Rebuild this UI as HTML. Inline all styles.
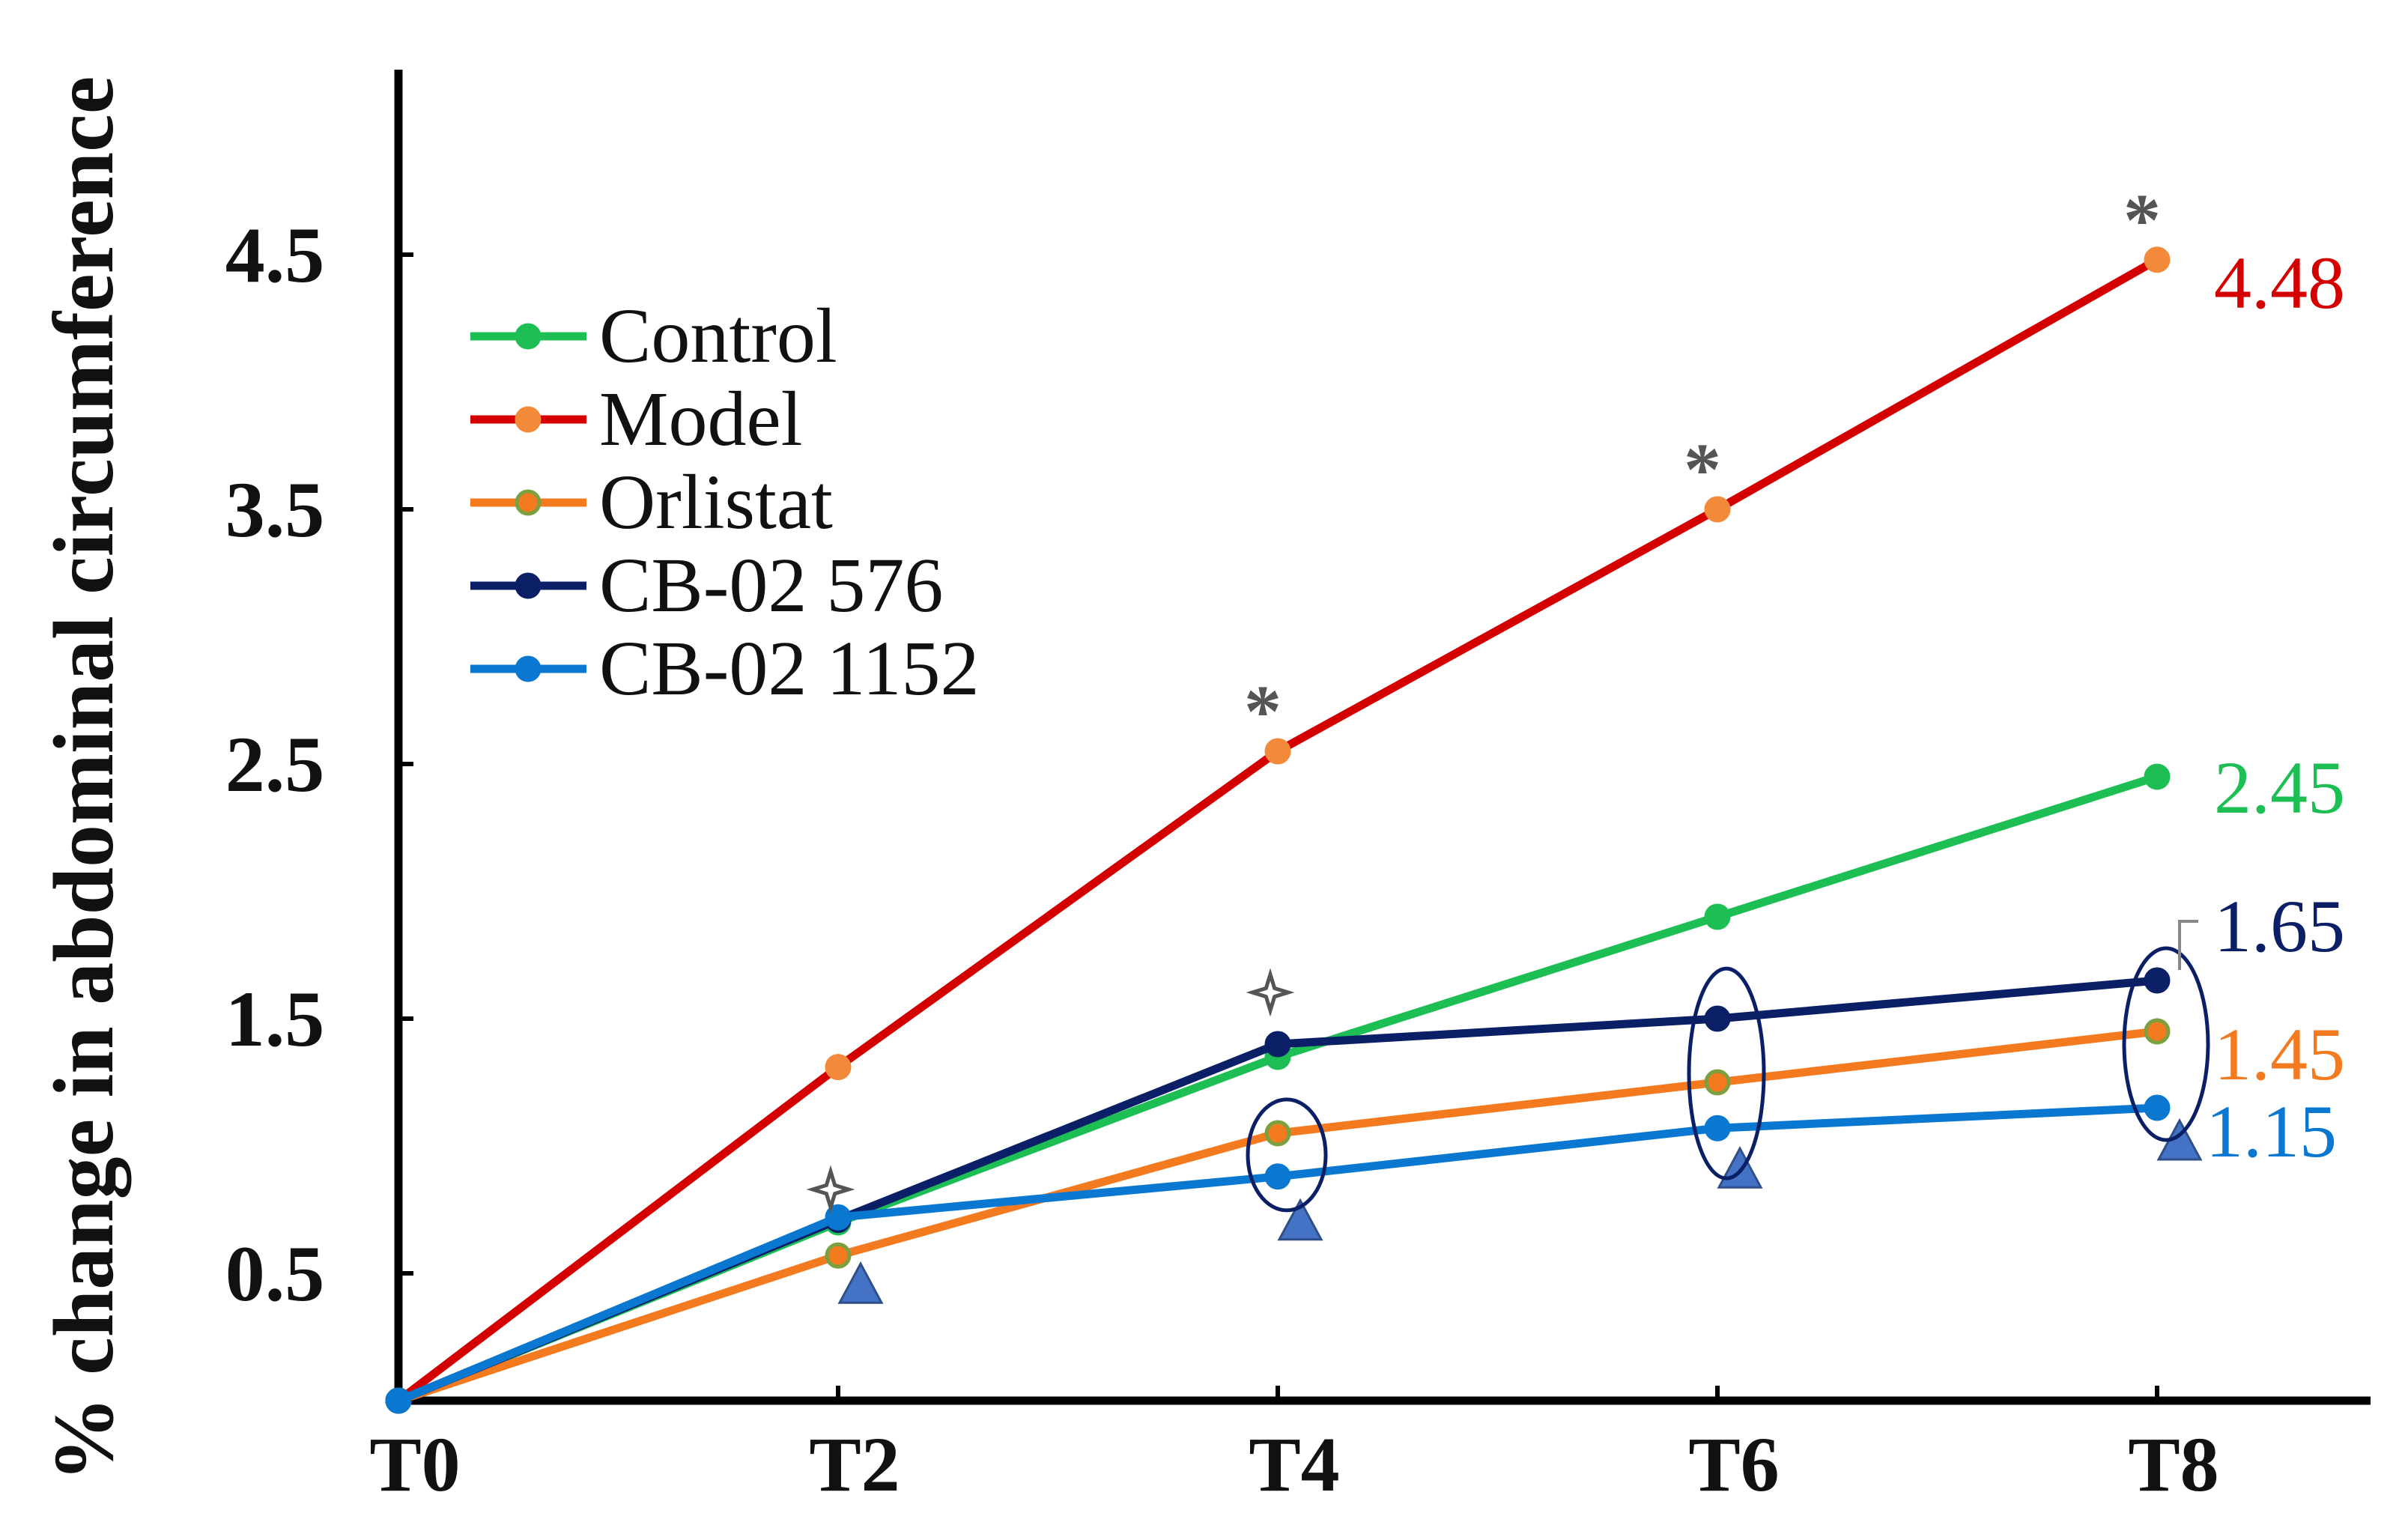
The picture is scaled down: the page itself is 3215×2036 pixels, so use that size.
<!DOCTYPE html>
<html><head><meta charset="utf-8"><style>
html,body{margin:0;padding:0;background:#fff;}
svg{display:block;}
</style></head><body>
<svg id="chart" width="3215" height="2036" viewBox="0 0 3215 2036" xmlns="http://www.w3.org/2000/svg" font-family="'Liberation Serif', serif">
<rect width="3215" height="2036" fill="#fff"/>
<text transform="translate(150,1040) rotate(-90)" text-anchor="middle" font-size="114" font-weight="bold" fill="#111">% change in abdominal circumference</text>
<g id="plot"></g>
</svg>
<script>
const categories = ["T0","T2","T4","T6","T8"];
const yTicks = [0.5,1.5,2.5,3.5,4.5];
const seriesNames = ["Control","Model","Orlistat","CB-02 576","CB-02 1152"];
const controlVals = [0,0.70,1.35,1.90,2.45];
const modelVals = [0,1.31,2.55,3.50,4.48];
const orlistatVals = [0,0.57,1.05,1.25,1.45];
const cb576Vals = [0,0.71,1.40,1.50,1.65];
const cb1152Vals = [0,0.72,0.88,1.07,1.15];
const endLabels = ["2.45","4.48","1.45","1.65","1.15"];

const NS="http://www.w3.org/2000/svg";
const g=document.getElementById('plot');
const xS=i=>532+i*587;
const yS=v=>1870-v*340;
function mk(tag,attrs,parent){const e=document.createElementNS(NS,tag);for(const k in attrs)e.setAttribute(k,attrs[k]);(parent||g).appendChild(e);return e;}

let e=mk('line',{x1:532,y1:93,x2:532,y2:1870,stroke:'#000','stroke-width':11});


e=mk('line',{x1:527,y1:1870,x2:3165,y2:1870,stroke:'#000','stroke-width':11});


yTicks.forEach(t=>{
  let l=mk('line',{x1:532,y1:yS(t),x2:552,y2:yS(t),stroke:'#000','stroke-width':6});
  
  
  let tx=mk('text',{x:367,y:yS(t)+36,'text-anchor':'middle','font-size':106,'font-weight':'bold',fill:'#111'});
  tx.textContent=t.toFixed(1);
  
  
});
categories.forEach((c,i)=>{
  if(i>0){let l=mk('line',{x1:xS(i),y1:1870,x2:xS(i),y2:1850,stroke:'#000','stroke-width':6});
  
  }
  let tx=mk('text',{x:xS(i)+22,y:1990,'text-anchor':'middle','font-size':104,'font-weight':'bold',fill:'#111'});
  tx.textContent=c;
  
  
});

const series=[
 {vals:controlVals,line:'#1dbf55',mk:'#1dbf55',mks:'#1dbf55',lab:'#1dbf55'},
 {vals:modelVals,line:'#d40000',mk:'#f28a3a',mks:'#f28a3a',lab:'#d40000'},
 {vals:orlistatVals,line:'#f47a20',mk:'#f47a20',mks:'#7aa040',lab:'#f47a20'},
 {vals:cb576Vals,line:'#0a1f66',mk:'#0a1f66',mks:'#0a1f66',lab:'#0a1f66'},
 {vals:cb1152Vals,line:'#0a78d0',mk:'#0a78d0',mks:'#0a78d0',lab:'#0a78d0'}
];
const labelY=[1051,377,1407,1236,1510];
const labelX=[2956,2956,2956,2956,2945];
series.forEach((s,si)=>{
  const pts=s.vals.map((v,i)=>xS(i)+','+yS(v)).join(' ');
  let pl=mk('polyline',{points:pts,fill:'none',stroke:s.line,'stroke-width':11,'stroke-linejoin':'round'});
  
  
  s.vals.forEach((v,i)=>{
    let c=mk('circle',{cx:xS(i),cy:yS(v),r:15,fill:s.mk,stroke:s.mks,'stroke-width':5});
    
    
  });
  let t=mk('text',{x:labelX[si],y:labelY[si]+34,'font-size':100,fill:s.lab});
  t.textContent=endLabels[si];
  
  
  const ly=449+si*111;
  let ll=mk('line',{x1:628,y1:ly,x2:783,y2:ly,stroke:s.line,'stroke-width':11});
  
  
  let lc=mk('circle',{cx:705,cy:ly,r:15,fill:s.mk,stroke:s.mks,'stroke-width':5});
  
  
  let lt=mk('text',{x:800,y:ly+34,'font-size':104,fill:'#111'});
  lt.textContent=seriesNames[si];
  
  
});

[2,3,4].forEach(i=>{
  let t=mk('text',{x:xS(i)-20,y:yS(modelVals[i])-20,'text-anchor':'middle','font-size':100,'font-weight':'bold',fill:'#555'});
  t.textContent='*';
  
  
});
[[1,0.80],[2,1.50]].forEach(p=>{
  const cx=xS(p[0])-10, cy=yS(p[1])+ (p[0]==1?-10:-35);
  const r=24,ri=8;
  let d='';
  for(let k=0;k<8;k++){const a=k*Math.PI/4-Math.PI/2;const rr=k%2?ri:r;d+=(k?'L':'M')+(cx+rr*Math.cos(a))+','+(cy+rr*Math.sin(a));}
  let s=mk('path',{d:d+'Z',fill:'#fff',stroke:'#555','stroke-width':5});
  
  
});
[[1,cb1152Vals[1],90],[2,cb1152Vals[2],60],[3,cb1152Vals[3],55],[4,cb1152Vals[4],45]].forEach(p=>{
  const cx=xS(p[0])+30, cy=yS(p[1])+p[2];
  let t=mk('polygon',{points:`${cx},${cy-28} ${cx-28},${cy+24} ${cx+28},${cy+24}`,fill:'#4472c4',stroke:'#2f4f8a','stroke-width':3});
  
  
});
[[2,(orlistatVals[2]+cb1152Vals[2])/2,52,74],[3,(cb576Vals[3]+cb1152Vals[3])/2,50,140],[4,(cb576Vals[4]+cb1152Vals[4])/2,56,128]].forEach(p=>{
  let el=mk('ellipse',{cx:xS(p[0])+12,cy:yS(p[1]),rx:p[2],ry:p[3],fill:'none',stroke:'#0a1f66','stroke-width':5});
  
  
});
e=mk('polyline',{points:'2935,1230 2910,1230 2910,1295',fill:'none',stroke:'#888','stroke-width':4});


</script>
</body></html>
